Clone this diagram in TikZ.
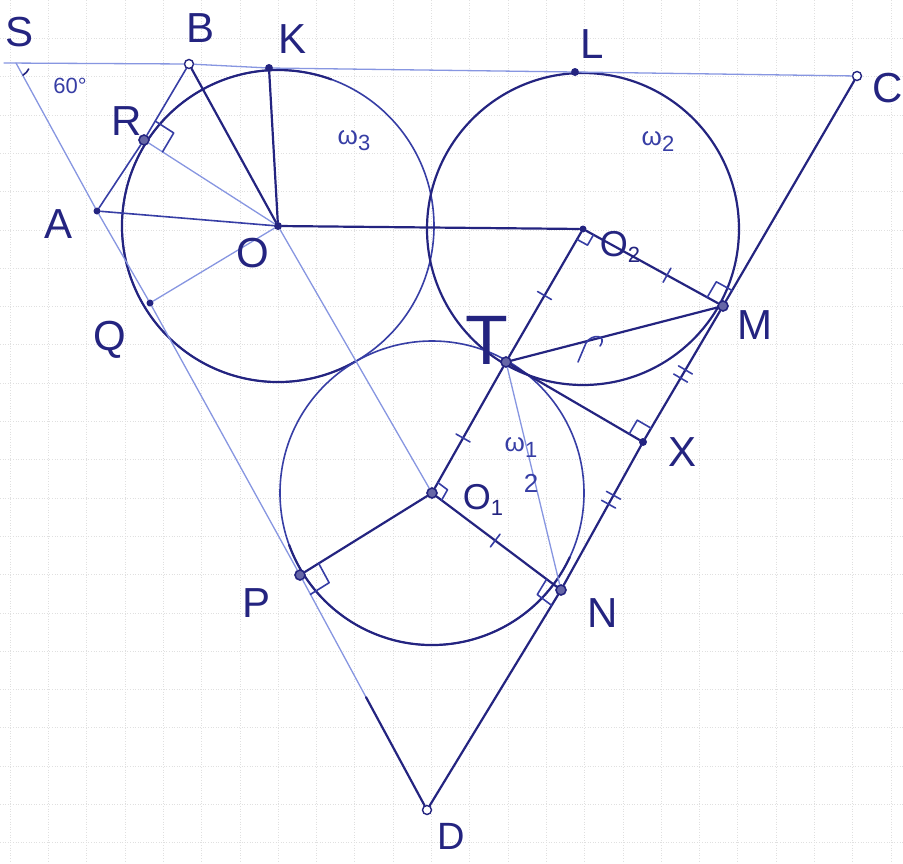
\documentclass[tikz,border=0pt]{standalone}
\usepackage{fontspec}
\setmainfont{Liberation Sans}
\usetikzlibrary{calc}
\pgfdeclarelayer{bg}
\pgfsetlayers{bg,main}
\definecolor{ink}{RGB}{36,36,128}
\definecolor{inkmid}{RGB}{55,62,165}
\definecolor{inklight}{RGB}{135,150,225}
\tikzset{
  heavy/.style={draw=ink, line width=2.2pt, line cap=round, line join=round},
  medium/.style={draw=inkmid, line width=1.6pt, line cap=round, line join=round},
  light/.style={draw=inklight, line width=1.3pt, line cap=round},
  gridln/.style={draw=black!12, line width=0.6pt, dotted},
  dotpt/.style={circle, fill=ink, inner sep=0pt, minimum size=8pt},
  ringpt/.style={circle, draw=ink, fill=white, line width=1.4pt, inner sep=0pt, minimum size=9pt},
  bigpt/.style={circle, draw=ink, fill=ink!70, line width=1.6pt, inner sep=0pt, minimum size=10pt},
  lbl/.style={text=ink, inner sep=0pt, font=\fontsize{42}{44}\selectfont},
  olbl/.style={text=ink, inner sep=0pt, font=\fontsize{36}{38}\selectfont},
  sublbl/.style={text=inkmid, inner sep=0pt, font=\fontsize{26}{28}\selectfont},
}
\newcommand\ramk[4]{%
  \coordinate (ra1) at ($(#1)!#4!(#2)$);
  \coordinate (ra2) at ($(#1)!#4!(#3)$);
  \draw[medium] (ra1) -- ($(ra1)+(ra2)-(#1)$) -- (ra2);}
\newcommand\tk[3]{%
  \draw[medium] ($(#1)!#3!(#2)!8pt!90:(#2)$) -- ($(#1)!#3!(#2)!8pt!-90:(#2)$);}
\newcommand\sbs[1]{\raisebox{-6pt}{\fontsize{22}{22}\selectfont #1}}
\begin{document}
\begin{tikzpicture}[x=1pt,y=-1pt]
\useasboundingbox (0,0) rectangle (903,863);
\begin{pgfonlayer}{bg}
\fill[white] (0,0) rectangle (903,863);
\foreach \i in {0,...,23} \draw[gridln] ({10+38.3*\i},0) -- ({10+38.3*\i},863);
\foreach \j in {1,...,22} \draw[gridln] (0,{38.3*\j}) -- (903,{38.3*\j});
\end{pgfonlayer}

% points
\coordinate (Wl) at (4,63);
\coordinate (Sv) at (16,63);
\node[ringpt] (B) at (189,64) {};
\node[dotpt] (K) at (269,68) {};
\node[dotpt] (L) at (575,72) {};
\node[ringpt] (C) at (857,76) {};
\node[dotpt,minimum size=7pt] (A) at (97,211) {};
\node[bigpt] (R) at (144,140) {};
\node[dotpt] (O) at (278,226) {};
\node[dotpt,minimum size=7pt] (Q) at (150,303) {};
\node[dotpt,minimum size=7pt] (O2) at (583,229) {};
\node[bigpt] (M) at (723,306) {};
\node[bigpt] (T) at (506,362) {};
\node[dotpt] (X) at (643,442) {};
\node[bigpt] (O1) at (432,493) {};
\node[bigpt] (N) at (561,590) {};
\node[bigpt] (P) at (300,575) {};
\node[ringpt] (D) at (427,810) {};
\coordinate (Dk) at ($(P)!0.52!(D)$);

\begin{pgfonlayer}{bg}
% circles
\draw[medium] (O) circle[radius=156];
\draw[heavy] ($(O)+(60:156)$) arc[start angle=60,end angle=290,radius=156];
\draw[heavy] (O2) circle[radius=156];
\draw[medium] (O1) circle[radius=152];
\draw[heavy] ($(O1)+(25:152)$) arc[start angle=25,end angle=160,radius=152];
\end{pgfonlayer}

% triangle sides
\draw[light] (Wl) -- (B) -- (K) -- (L) -- (C);
\draw[light] (Sv) -- (A) -- (Q) -- (P) -- (Dk);
\draw[heavy] (Dk) -- (D);
\draw[heavy] (C) -- (M) -- (X) -- (N) -- (D);
\draw[medium] (A) -- (R) -- (B);

% segments from O
\draw[heavy] (O) -- (B);
\draw[heavy] (O) -- (K);
\draw[light] (O) -- (R);
\draw[medium] (O) -- (A);
\draw[light] (O) -- (Q);
\draw[heavy] (O) -- (O2);
\draw[light] (O) -- (O1);

% segments from O2, T, O1
\draw[heavy] (O2) -- (M);
\draw[heavy] (O2) -- (T) -- (O1);
\draw[heavy] (T) -- (M);
\draw[heavy] (T) -- (X);
\draw[light] (T) -- (N);
\draw[heavy] (O1) -- (N);
\draw[heavy] (O1) -- (P);

% right angle marks
\ramk{R}{B}{O}{22pt}
\ramk{O2}{T}{M}{12pt}
\ramk{M}{O2}{C}{18pt}
\ramk{X}{T}{C}{16pt}
\ramk{O1}{T}{N}{12pt}
\ramk{N}{O1}{D}{18pt}
\ramk{P}{O1}{D}{22pt}

% equal-length ticks
\tk{O2}{T}{0.5}
\tk{O2}{M}{0.6}
\tk{T}{O1}{0.58}
\tk{O1}{N}{0.49}
\tk{M}{X}{0.47}\tk{M}{X}{0.53}
\tk{X}{N}{0.36}\tk{X}{N}{0.42}

% small marks
\draw[medium] (578,362) -- (586,343) .. controls (592,333) and (608,335) .. (600,346);
\draw[heavy,line width=1.6pt] ($(Sv)+(25:14)$) arc[start angle=25,end angle=60,radius=14];

% labels
\node[lbl] (tS) at (20,32) {S};
\node[lbl] (tB) at (201,28) {B};
\node[lbl] (tK) at (293,39) {K};
\node[lbl] (tL) at (592,44) {L};
\node[lbl,anchor=west] (tC) at (872,88) {C};
\node[lbl] (tR) at (127,121) {R};
\node[lbl] (tA) at (59,224) {A};
\node[lbl] (tO) at (253,253) {O};
\node[lbl] (tQ) at (110,340) {Q};
\node[sublbl] (tw3) at (354,141) {ω\sbs{3}};
\node[sublbl] (tw2) at (658,141) {ω\sbs{2}};
\node[olbl] (tO2) at (620,247) {O\sbs{2}};
\node[lbl,font=\fontsize{70}{72}\selectfont] (tT) at (487,340) {T};
\node[lbl] (tM) at (755,325) {M};
\node[lbl] (tX) at (683,452) {X};
\node[sublbl] (tw1) at (521,447) {ω\sbs{1}};
\node[sublbl] (t2) at (531,483) {2};
\node[olbl] (tO1) at (483,500) {O\sbs{1}};
\node[lbl] (tN) at (603,613) {N};
\node[lbl] (tP) at (257,603) {P};
\node[lbl,font=\fontsize{38}{40}\selectfont] (tD) at (451,836) {D};
\node[sublbl,font=\fontsize{22}{24}\selectfont] (t60) at (70,86) {60°};
\end{tikzpicture}
\end{document}
